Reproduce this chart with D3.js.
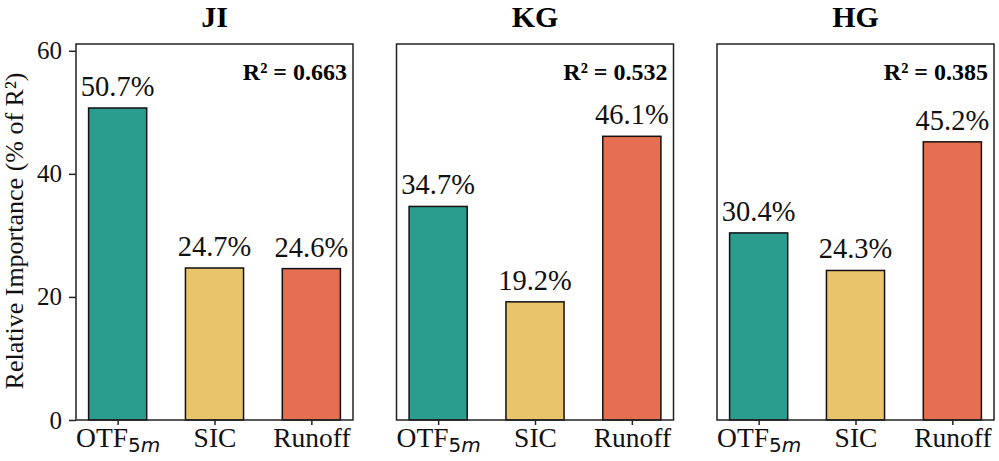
<!DOCTYPE html>
<html><head><meta charset="utf-8">
<script src="https://cdn.jsdelivr.net/npm/d3@7"></script>
<style>body{margin:0;background:#fff}svg{display:block}</style>
</head><body>
<script>
const categories = ["OTF", "SIC", "Runoff"];
const sites = ["JI", "KG", "HG"];
const valuesJI = [50.7, 24.7, 24.6];
const valuesKG = [34.7, 19.2, 46.1];
const valuesHG = [30.4, 24.3, 45.2];
const r2Values = [0.663, 0.532, 0.385];
const yTicks = [0, 20, 40, 60];
const colors = ["#2a9d8f", "#e9c46a", "#e76f51"];
const allValues = [valuesJI, valuesKG, valuesHG];

(function () {
const W = 999, H = 461;
const svg = d3.select("body").append("svg").attr("width", W).attr("height", H);
const font = "'Liberation Serif', 'Times New Roman', serif";
const plotTop = 44, plotBottom = 420, pw = 277;
const lefts = [76, 396.5, 717];

const y = d3.scaleLinear().domain([0, 61.1]).range([plotBottom, plotTop]);

sites.forEach((site, i) => {
  const g = svg.append("g").attr("transform", `translate(${lefts[i]},0)`);
  const x = d3.scaleLinear().domain([-0.43, 2.43]).range([0, pw]);
  const vals = allValues[i];
  const bw = x(0.6) - x(0);

  g.selectAll("rect.bar").data(vals).enter().append("rect")
    .attr("x", (d, j) => x(j) - bw / 2)
    .attr("y", d => y(d))
    .attr("width", bw)
    .attr("height", d => y(0) - y(d))
    .attr("fill", (d, j) => colors[j])
    .attr("stroke", "#111").attr("stroke-width", 1.5);

  g.selectAll("text.val").data(vals).enter().append("text")
    .attr("x", (d, j) => x(j))
    .attr("y", d => y(d) - 12)
    .attr("text-anchor", "middle")
    .attr("font-family", font).attr("font-size", 28.5).attr("fill", "#111")
    .text(d => d.toFixed(1) + "%");

  g.append("rect").attr("x", 0).attr("y", plotTop).attr("width", pw).attr("height", plotBottom - plotTop)
    .attr("fill", "none").attr("stroke", "#222").attr("stroke-width", 1.5);

  const xa = g.append("g").attr("transform", `translate(0,${plotBottom})`)
    .call(d3.axisBottom(x).tickValues([0, 1, 2]).tickSize(5).tickPadding(4).tickFormat(""));
  xa.select(".domain").remove();
  xa.selectAll("line").attr("stroke", "#222").attr("stroke-width", 1.5);
  xa.selectAll(".tick").each(function(d) {
    const t = d3.select(this).append("text").attr("y", 27).attr("fill", "#111")
      .attr("text-anchor", "middle").attr("font-family", font).attr("font-size", 27.5);
    if (d === 0) {
      t.append("tspan").text(categories[0]);
      t.append("tspan").attr("font-family", "'DejaVu Sans', sans-serif").attr("font-size", 20)
        .attr("dy", 5).text("5");
      t.append("tspan").attr("font-family", "'DejaVu Sans', sans-serif").attr("font-size", 20)
        .attr("font-style", "italic").text("m");
    } else {
      t.text(categories[d]);
    }
  });

  if (i === 0) {
    const ya = g.append("g").call(d3.axisLeft(y).tickValues(yTicks).tickSize(7).tickPadding(7));
    ya.select(".domain").remove();
    ya.selectAll("line").attr("stroke", "#222").attr("stroke-width", 1.5);
    ya.selectAll("text").attr("font-family", font).attr("font-size", 25).attr("fill", "#111");
  }

  g.append("text").attr("x", pw / 2).attr("y", 27).attr("text-anchor", "middle")
    .attr("font-family", font).attr("font-size", 30).attr("font-weight", "bold").text(site);

  g.append("text").attr("x", pw - 6).attr("y", 80).attr("text-anchor", "end")
    .attr("font-family", font).attr("font-size", 24).attr("font-weight", "bold")
    .text("R² = " + r2Values[i].toFixed(3));
});

svg.append("text")
  .attr("transform", `translate(23,${(plotTop + plotBottom) / 2 - 1}) rotate(-90)`)
  .attr("text-anchor", "middle").attr("font-family", font).attr("font-size", 26).attr("fill", "#111")
  .text("Relative Importance (% of R²)");
})();
</script>
</body></html>
